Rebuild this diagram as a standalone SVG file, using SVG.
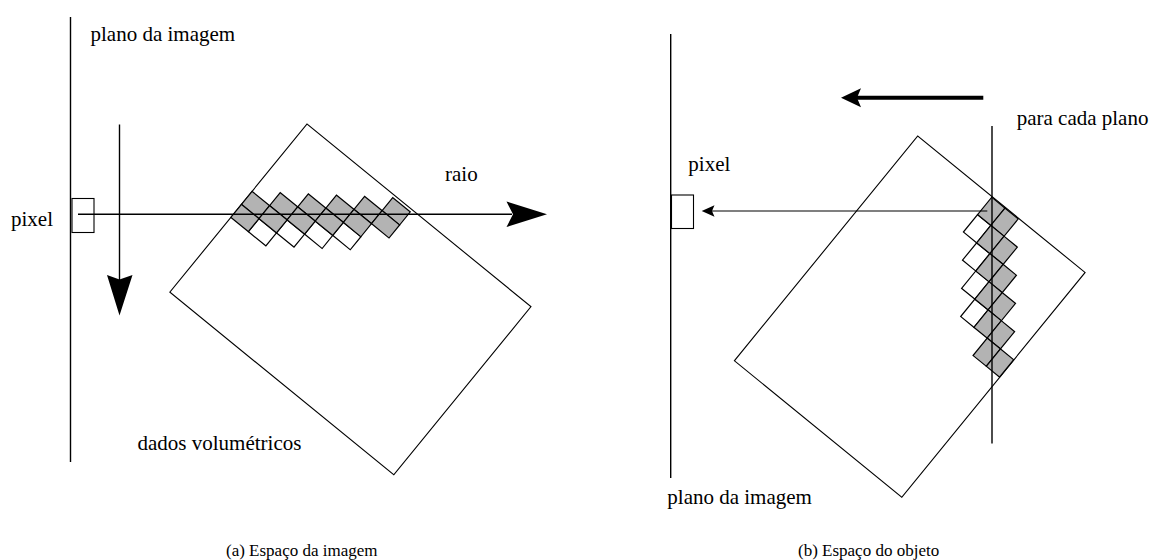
<svg xmlns="http://www.w3.org/2000/svg" width="1150" height="560" viewBox="0 0 1150 560">
  <style>
    .ln { stroke: #000; fill: none; }
    .plane { stroke: #000; stroke-width: 1.4; fill: none; }
    .box { stroke: #000; stroke-width: 1.1; fill: #fff; }
    .vol { stroke: #000; stroke-width: 1.1; fill: none; }
    .g { fill: #b3b3b3; stroke: #000; stroke-width: 1.2; }
    .w { fill: #fff; stroke: #000; stroke-width: 1.2; }
    .head { fill: #000; stroke: none; }
    .lbl { font-size: 21px; fill: #000; }
    .cap { font-size: 17px; fill: #000; }
  </style>

  <!-- (a) Espaço da imagem -->
  <g id="panel-a" font-family="'Liberation Serif', Tinos, 'Times New Roman', 'DejaVu Serif', serif">
    <g id="a-image-plane">
      <line class="plane" x1="70.5" y1="17" x2="70.5" y2="462"/>
      <text class="lbl" x="90.5" y="41" font-family="'Liberation Serif', Tinos, 'Times New Roman', 'DejaVu Serif', serif">plano da imagem</text>
    </g>
    <g id="a-volume" transform="translate(307,124) rotate(39.2)">
      <rect class="vol" x="0" y="0" width="289" height="217"/>
      <g id="a-cells">
        <rect class="w" x="22.6" y="103.7" width="22.6" height="16.8"/>
        <rect class="w" x="45.2" y="86.9" width="22.6" height="16.8"/>
        <rect class="w" x="67.8" y="70.1" width="22.6" height="16.8"/>
        <rect class="w" x="90.4" y="53.3" width="22.6" height="16.8"/>
        <rect class="g" x="0" y="86.9" width="22.6" height="16.8"/>
        <rect class="g" x="0" y="103.7" width="22.6" height="16.8"/>
        <rect class="g" x="22.6" y="70.1" width="22.6" height="16.8"/>
        <rect class="g" x="22.6" y="86.9" width="22.6" height="16.8"/>
        <rect class="g" x="45.2" y="53.3" width="22.6" height="16.8"/>
        <rect class="g" x="45.2" y="70.1" width="22.6" height="16.8"/>
        <rect class="g" x="67.8" y="36.5" width="22.6" height="16.8"/>
        <rect class="g" x="67.8" y="53.3" width="22.6" height="16.8"/>
        <rect class="g" x="90.4" y="19.7" width="22.6" height="16.8"/>
        <rect class="g" x="90.4" y="36.5" width="22.6" height="16.8"/>
        <rect class="g" x="113" y="2.9" width="22.6" height="16.8"/>
        <rect class="g" x="113" y="19.7" width="22.6" height="16.8"/>
      </g>
    </g>
    <g id="a-pixel">
      <rect class="box" x="72" y="198.5" width="22" height="34"/>
      <text class="lbl" x="11" y="226" font-family="'Liberation Serif', Tinos, 'Times New Roman', 'DejaVu Serif', serif">pixel</text>
    </g>
    <g id="a-connectors">
      <line class="ln" stroke-width="1.4" x1="78" y1="214.3" x2="512" y2="214.3"/>
      <polygon class="head" points="547,214.3 506.5,201.5 513,214.3 506.5,227"/>
      <line class="ln" stroke-width="1.4" x1="119.5" y1="124.5" x2="119.5" y2="280"/>
      <polygon class="head" points="119.5,315.5 107,275 119.5,279.5 132.5,275"/>
    </g>
    <text class="lbl" x="445" y="181" font-family="'Liberation Serif', Tinos, 'Times New Roman', 'DejaVu Serif', serif">raio</text>
    <text class="lbl" x="137.5" y="450" font-family="'Liberation Serif', Tinos, 'Times New Roman', 'DejaVu Serif', serif">dados volumétricos</text>
    <text class="cap" x="226" y="556" font-family="'Liberation Serif', Tinos, 'Times New Roman', 'DejaVu Serif', serif">(a) Espaço da imagem</text>
  </g>

  <!-- (b) Espaço do objeto -->
  <g id="panel-b" font-family="'Liberation Serif', Tinos, 'Times New Roman', 'DejaVu Serif', serif">
    <g id="b-image-plane">
      <line class="plane" x1="670.7" y1="34" x2="670.7" y2="478"/>
      <text class="lbl" x="667.3" y="503.5" font-family="'Liberation Serif', Tinos, 'Times New Roman', 'DejaVu Serif', serif">plano da imagem</text>
    </g>
    <g id="b-volume" transform="translate(917.7,136) rotate(39.2)">
      <rect class="vol" x="0" y="0" width="216" height="290"/>
      <g id="b-cells">
        <rect class="w" x="96.1" y="23.1" width="17.1" height="22.4"/>
        <rect class="w" x="113.2" y="45.5" width="17.1" height="22.4"/>
        <rect class="w" x="130.3" y="67.9" width="17.1" height="22.4"/>
        <rect class="w" x="147.4" y="90.3" width="17.1" height="22.4"/>
        <rect class="g" x="96.1" y="0.7" width="17.1" height="22.4"/>
        <rect class="g" x="113.2" y="0.7" width="17.1" height="22.4"/>
        <rect class="g" x="113.2" y="23.1" width="17.1" height="22.4"/>
        <rect class="g" x="130.3" y="23.1" width="17.1" height="22.4"/>
        <rect class="g" x="130.3" y="45.5" width="17.1" height="22.4"/>
        <rect class="g" x="147.4" y="45.5" width="17.1" height="22.4"/>
        <rect class="g" x="147.4" y="67.9" width="17.1" height="22.4"/>
        <rect class="g" x="164.5" y="67.9" width="17.1" height="22.4"/>
        <rect class="g" x="164.5" y="90.3" width="17.1" height="22.4"/>
        <rect class="g" x="181.6" y="90.3" width="17.1" height="22.4"/>
        <rect class="g" x="181.6" y="112.7" width="17.1" height="22.4"/>
        <rect class="g" x="198.7" y="112.7" width="17.1" height="22.4"/>
      </g>
    </g>
    <g id="b-slice-plane">
      <line class="plane" x1="992" y1="126" x2="992" y2="443.5"/>
      <text class="lbl" x="1016.7" y="124.5" font-family="'Liberation Serif', Tinos, 'Times New Roman', 'DejaVu Serif', serif">para cada plano</text>
    </g>
    <g id="b-pixel">
      <rect class="box" x="671.5" y="195" width="22" height="33.5"/>
      <text class="lbl" x="688.3" y="171" font-family="'Liberation Serif', Tinos, 'Times New Roman', 'DejaVu Serif', serif">pixel</text>
    </g>
    <g id="b-connectors">
      <line class="ln" stroke-width="1.2" x1="987.3" y1="211" x2="711" y2="211"/>
      <polygon class="head" points="701.7,211 714.5,205.3 712,211 714.5,216.7"/>
      <line class="ln" stroke-width="4" x1="983.3" y1="97.7" x2="856" y2="97.7"/>
      <polygon class="head" points="841,97.7 861,88.3 857,97.7 861,107.3"/>
    </g>
    <text class="cap" x="798" y="556" font-family="'Liberation Serif', Tinos, 'Times New Roman', 'DejaVu Serif', serif">(b) Espaço do objeto</text>
  </g>
</svg>
